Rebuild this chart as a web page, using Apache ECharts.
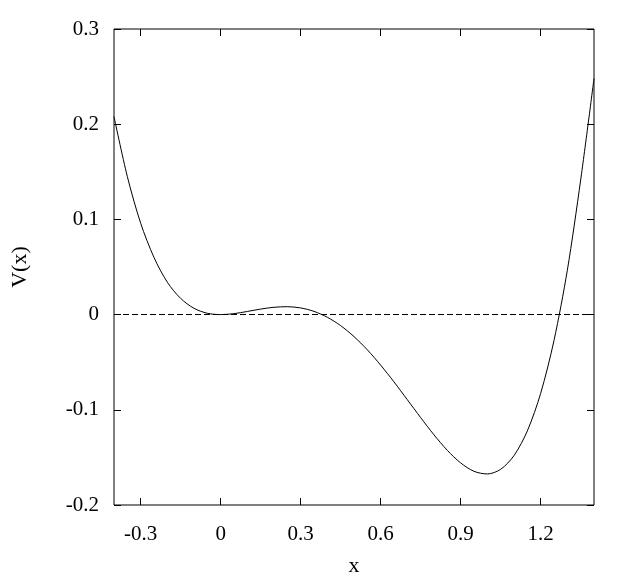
<!DOCTYPE html>
<html>
<head>
<meta charset="utf-8">
<script src="https://cdn.jsdelivr.net/npm/echarts@6/dist/echarts.min.js"></script>
<style>
html,body{margin:0;padding:0;background:#fff;}
#chart{width:623px;height:582px;}
</style>
</head>
<body>
<div id="chart"></div>
<script>
// x positions
const xValues = [-0.40,-0.35,-0.30,-0.25,-0.20,-0.15,-0.10,-0.05,0.00,0.05,0.10,0.15,0.20,0.25,0.30,0.35,0.40,0.45,0.50,0.55,0.60,0.65,0.70,0.75,0.80,0.85,0.90,0.95,1.00,1.05,1.10,1.15,1.20,1.25,1.30,1.35,1.40];
// V(x) values
const vValues = [0.208,0.145,0.096,0.060,0.034,0.017,0.0066,0.0014,0.0,0.0010,0.0033,0.0058,0.0077,0.0083,0.0070,0.0034,-0.0028,-0.0116,-0.0231,-0.0370,-0.0531,-0.0707,-0.0894,-0.1082,-0.1263,-0.1426,-0.1558,-0.1646,-0.1674,-0.1625,-0.1481,-0.1222,-0.0827,-0.0272,0.0466,0.1414,0.248];
const zeroLevel = 0;
const xTicks = [-0.3,0,0.3,0.6,0.9,1.2];

const fmt = v => (Math.abs(v) < 1e-9 ? '0' : v.toFixed(1));
const font = 'Liberation Serif';
const curve = xValues.map((x, i) => [x, vValues[i]]);

const chart = echarts.init(document.getElementById('chart'), null, {renderer: 'canvas'});
const tickStyle = {show: true, inside: true, length: 7, lineStyle: {color: '#000', width: 1}};
const noLine = {show: false, onZero: false};
chart.setOption({
  animation: false,
  backgroundColor: '#fff',
  grid: {left: 114, right: 29, top: 29, bottom: 76, show: true, borderColor: '#000', borderWidth: 1, containLabel: false},
  xAxis: [{
    type: 'value', min: -0.4, max: 1.4, position: 'bottom',
    name: 'x', nameLocation: 'middle', nameGap: 50,
    nameTextStyle: {fontFamily: font, fontSize: 22, color: '#000'},
    axisLine: noLine,
    axisTick: Object.assign({customValues: xTicks}, tickStyle),
    axisLabel: {customValues: xTicks, formatter: fmt, fontFamily: font, fontSize: 21, color: '#000', margin: 19},
    splitLine: {show: false}
  }, {
    type: 'value', min: -0.4, max: 1.4, position: 'top',
    axisLine: noLine,
    axisTick: Object.assign({customValues: xTicks}, tickStyle),
    axisLabel: {show: false},
    splitLine: {show: false}
  }],
  yAxis: [{
    type: 'value', min: -0.2, max: 0.3, interval: 0.1, position: 'left',
    name: 'V(x)', nameLocation: 'middle', nameGap: 83, nameRotate: 90,
    nameTextStyle: {fontFamily: font, fontSize: 22, color: '#000'},
    axisLine: noLine,
    axisTick: tickStyle,
    axisLabel: {formatter: fmt, fontFamily: font, fontSize: 21, color: '#000', margin: 15},
    splitLine: {show: false}
  }, {
    type: 'value', min: -0.2, max: 0.3, interval: 0.1, position: 'right',
    axisLine: noLine,
    axisTick: tickStyle,
    axisLabel: {show: false},
    splitLine: {show: false}
  }],
  series: [{
    type: 'line',
    data: curve,
    xAxisIndex: 0, yAxisIndex: 0,
    showSymbol: false,
    smooth: 0.3,
    lineStyle: {color: '#000', width: 1},
    markLine: {
      silent: true,
      symbol: 'none',
      label: {show: false},
      lineStyle: {color: '#000', width: 1, type: [6, 3]},
      data: [{yAxis: zeroLevel}]
    }
  }]
});
</script>
</body>
</html>
